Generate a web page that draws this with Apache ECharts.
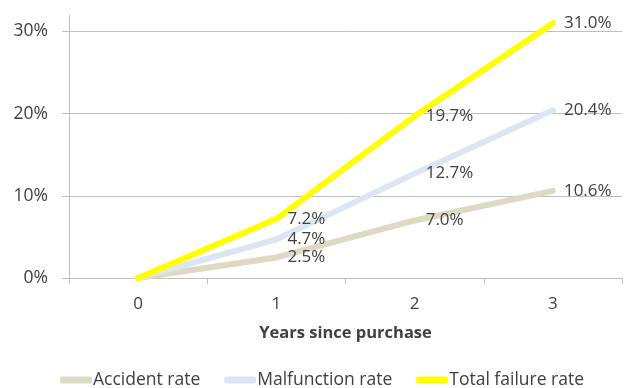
<!DOCTYPE html>
<html>
<head>
<meta charset="utf-8">
<script src="https://cdn.jsdelivr.net/npm/echarts@6/dist/echarts.min.js"></script>
<style>
  html, body { margin: 0; padding: 0; background: #fff; }
  #chart { width: 629px; height: 388px; }
</style>
</head>
<body>
<div id="chart"></div>
<script>
// Failure rates by years since purchase
const years = ['0', '1', '2', '3'];
const accidentRate = [0, 2.5, 7.0, 10.6];
const malfunctionRate = [0, 4.7, 12.7, 20.4];
const totalFailureRate = [0, 7.2, 19.7, 31.0];
const seriesNames = ['Accident rate', 'Malfunction rate', 'Total failure rate'];
const yTicks = [0, 10, 20, 30];

const FONT = '"Open Sans", sans-serif';
const TEXT = '#404040';
const AXIS = '#bfbfbf';

function lineSeries(name, values, color) {
  return {
    name: name,
    type: 'line',
    data: values.map(v => v / 100),
    symbol: 'circle',
    symbolSize: 0.1,
    showSymbol: true,
    lineStyle: { color: color, width: 6, cap: 'round', join: 'round' },
    itemStyle: { color: color },
    label: {
      show: true,
      position: 'right',
      distance: 11,
      color: TEXT,
      fontFamily: FONT,
      fontSize: 17,
      formatter: p => (p.dataIndex === 0 ? '' : (p.value * 100).toFixed(1) + '%')
    },
    labelLayout: { hideOverlap: false },
    emphasis: { disabled: true },
    animation: false
  };
}

const chart = echarts.init(document.getElementById('chart'));
chart.setOption({
  backgroundColor: '#fff',
  animation: false,
  grid: { left: 69, right: 7, top: 15, bottom: 110, containLabel: false },
  legend: {
    top: 366,
    left: 55,
    itemWidth: 32,
    itemHeight: 7,
    itemGap: 24,
    icon: 'roundRect',
    data: seriesNames,
    textStyle: { color: TEXT, fontFamily: FONT, fontSize: 17.5, padding: [0, 0, 0, -4] }
  },
  xAxis: {
    type: 'category',
    data: years,
    boundaryGap: true,
    name: 'Years since purchase',
    nameLocation: 'middle',
    nameGap: 47,
    nameTextStyle: { color: TEXT, fontFamily: FONT, fontSize: 16.5, fontWeight: 'bold' },
    axisLine: { lineStyle: { color: AXIS, width: 1 } },
    axisTick: { show: true, length: 6, lineStyle: { color: AXIS } },
    axisLabel: { color: TEXT, fontFamily: FONT, fontSize: 17, margin: 18 },
    splitLine: { show: false }
  },
  yAxis: {
    type: 'value',
    min: 0,
    max: 0.32,
    interval: 0.1,
    axisLine: { show: true, lineStyle: { color: AXIS, width: 1 } },
    axisTick: { show: true, length: 7, lineStyle: { color: AXIS } },
    axisLabel: {
      color: TEXT, fontFamily: FONT, fontSize: 17.5, margin: 21,
      showMaxLabel: false,
      formatter: v => {
        const pct = Math.round(v * 100);
        return yTicks.includes(pct) && Math.abs(v * 100 - pct) < 1e-6 ? pct + '%' : '';
      }
    },
    splitLine: { show: true, showMinLine: false, showMaxLine: false, lineStyle: { color: AXIS, width: 1 } }
  },
  series: [
    lineSeries(seriesNames[0], accidentRate, '#ddd9c3'),
    lineSeries(seriesNames[1], malfunctionRate, '#dce6f2'),
    lineSeries(seriesNames[2], totalFailureRate, '#ffff00')
  ]
});
</script>
</body>
</html>
